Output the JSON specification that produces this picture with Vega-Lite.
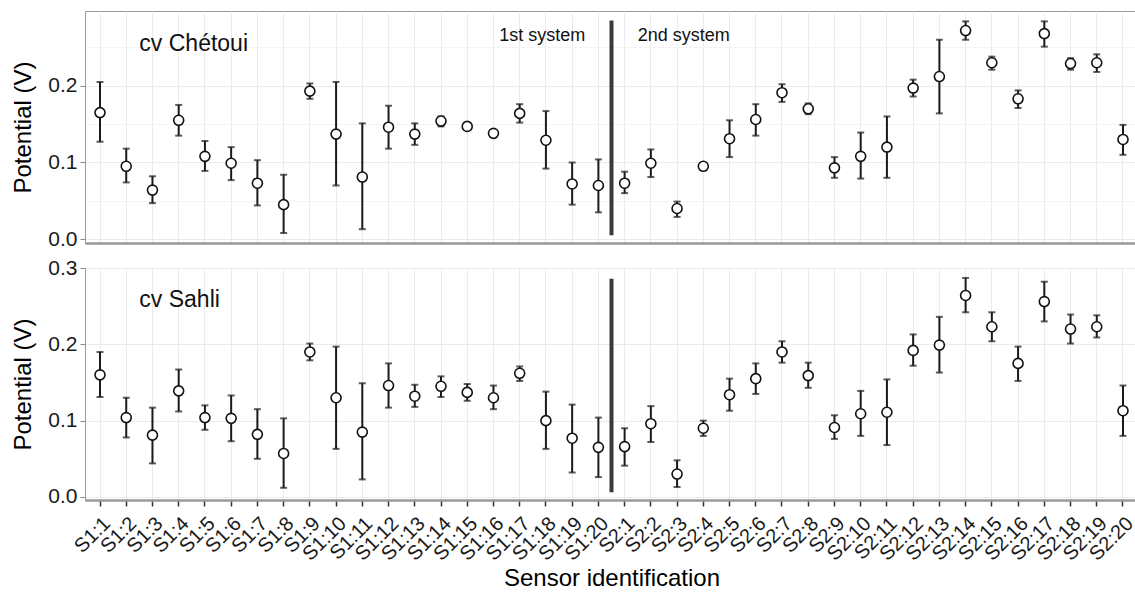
{
  "$schema": "https://vega.github.io/schema/vega-lite/v6.json",
  "padding": {"left": 11, "top": 10, "right": 0, "bottom": 0},
  "spacing": 6,
  "config": {
    "font": "Liberation Sans",
    "view": {"stroke": "#9a9a9a", "strokeWidth": 1},
    "axis": {"labelFont": "Liberation Sans", "titleFont": "Liberation Sans", "titleFontWeight": "normal", "labelColor": "#1a1a1a", "titleColor": "#000000", "gridColor": "#ebebeb", "domainColor": "#9a9a9a"},
    "axisY": {"labelFontSize": 21, "titleFontSize": 24, "tickSize": 5, "tickColor": "#8a8a8a", "labelPadding": 3, "titlePadding": 12, "domainWidth": 1}
  },
  "datasets": {
    "chetoui": [
      {"sensor": "S1:1", "m": 0.165, "lo": 0.127, "hi": 0.205},
      {"sensor": "S1:2", "m": 0.095, "lo": 0.074, "hi": 0.118},
      {"sensor": "S1:3", "m": 0.064, "lo": 0.047, "hi": 0.082},
      {"sensor": "S1:4", "m": 0.155, "lo": 0.135, "hi": 0.175},
      {"sensor": "S1:5", "m": 0.108, "lo": 0.089, "hi": 0.128},
      {"sensor": "S1:6", "m": 0.099, "lo": 0.077, "hi": 0.120},
      {"sensor": "S1:7", "m": 0.073, "lo": 0.044, "hi": 0.103},
      {"sensor": "S1:8", "m": 0.045, "lo": 0.008, "hi": 0.084},
      {"sensor": "S1:9", "m": 0.193, "lo": 0.183, "hi": 0.203},
      {"sensor": "S1:10", "m": 0.137, "lo": 0.070, "hi": 0.205},
      {"sensor": "S1:11", "m": 0.081, "lo": 0.013, "hi": 0.151},
      {"sensor": "S1:12", "m": 0.146, "lo": 0.118, "hi": 0.174},
      {"sensor": "S1:13", "m": 0.137, "lo": 0.123, "hi": 0.151},
      {"sensor": "S1:14", "m": 0.154, "lo": 0.147, "hi": 0.160},
      {"sensor": "S1:15", "m": 0.147, "lo": 0.145, "hi": 0.149},
      {"sensor": "S1:16", "m": 0.138, "lo": 0.136, "hi": 0.140},
      {"sensor": "S1:17", "m": 0.164, "lo": 0.152, "hi": 0.176},
      {"sensor": "S1:18", "m": 0.129, "lo": 0.092, "hi": 0.167},
      {"sensor": "S1:19", "m": 0.072, "lo": 0.045, "hi": 0.100},
      {"sensor": "S1:20", "m": 0.070, "lo": 0.035, "hi": 0.104},
      {"sensor": "S2:1", "m": 0.073, "lo": 0.060, "hi": 0.088},
      {"sensor": "S2:2", "m": 0.099, "lo": 0.081, "hi": 0.117},
      {"sensor": "S2:3", "m": 0.040, "lo": 0.029, "hi": 0.049},
      {"sensor": "S2:4", "m": 0.095, "lo": 0.092, "hi": 0.098},
      {"sensor": "S2:5", "m": 0.131, "lo": 0.107, "hi": 0.155},
      {"sensor": "S2:6", "m": 0.156, "lo": 0.135, "hi": 0.176},
      {"sensor": "S2:7", "m": 0.191, "lo": 0.179, "hi": 0.202},
      {"sensor": "S2:8", "m": 0.170, "lo": 0.163, "hi": 0.177},
      {"sensor": "S2:9", "m": 0.093, "lo": 0.080, "hi": 0.107},
      {"sensor": "S2:10", "m": 0.108, "lo": 0.079, "hi": 0.139},
      {"sensor": "S2:11", "m": 0.120, "lo": 0.080, "hi": 0.160},
      {"sensor": "S2:12", "m": 0.197, "lo": 0.186, "hi": 0.208},
      {"sensor": "S2:13", "m": 0.212, "lo": 0.164, "hi": 0.260},
      {"sensor": "S2:14", "m": 0.272, "lo": 0.260, "hi": 0.284},
      {"sensor": "S2:15", "m": 0.230, "lo": 0.221, "hi": 0.238},
      {"sensor": "S2:16", "m": 0.183, "lo": 0.171, "hi": 0.194},
      {"sensor": "S2:17", "m": 0.268, "lo": 0.251, "hi": 0.284},
      {"sensor": "S2:18", "m": 0.229, "lo": 0.221, "hi": 0.236},
      {"sensor": "S2:19", "m": 0.230, "lo": 0.218, "hi": 0.241},
      {"sensor": "S2:20", "m": 0.130, "lo": 0.110, "hi": 0.149}
    ],
    "sahli": [
      {"sensor": "S1:1", "m": 0.160, "lo": 0.131, "hi": 0.190},
      {"sensor": "S1:2", "m": 0.104, "lo": 0.078, "hi": 0.130},
      {"sensor": "S1:3", "m": 0.081, "lo": 0.044, "hi": 0.117},
      {"sensor": "S1:4", "m": 0.139, "lo": 0.112, "hi": 0.167},
      {"sensor": "S1:5", "m": 0.104, "lo": 0.088, "hi": 0.120},
      {"sensor": "S1:6", "m": 0.103, "lo": 0.073, "hi": 0.133},
      {"sensor": "S1:7", "m": 0.082, "lo": 0.050, "hi": 0.115},
      {"sensor": "S1:8", "m": 0.057, "lo": 0.012, "hi": 0.103},
      {"sensor": "S1:9", "m": 0.190, "lo": 0.179, "hi": 0.201},
      {"sensor": "S1:10", "m": 0.130, "lo": 0.063, "hi": 0.197},
      {"sensor": "S1:11", "m": 0.085, "lo": 0.023, "hi": 0.149},
      {"sensor": "S1:12", "m": 0.146, "lo": 0.117, "hi": 0.175},
      {"sensor": "S1:13", "m": 0.132, "lo": 0.118, "hi": 0.147},
      {"sensor": "S1:14", "m": 0.145, "lo": 0.131, "hi": 0.158},
      {"sensor": "S1:15", "m": 0.137, "lo": 0.126, "hi": 0.148},
      {"sensor": "S1:16", "m": 0.130, "lo": 0.115, "hi": 0.146},
      {"sensor": "S1:17", "m": 0.162, "lo": 0.152, "hi": 0.171},
      {"sensor": "S1:18", "m": 0.100, "lo": 0.063, "hi": 0.138},
      {"sensor": "S1:19", "m": 0.077, "lo": 0.032, "hi": 0.121},
      {"sensor": "S1:20", "m": 0.065, "lo": 0.026, "hi": 0.104},
      {"sensor": "S2:1", "m": 0.066, "lo": 0.041, "hi": 0.090},
      {"sensor": "S2:2", "m": 0.096, "lo": 0.072, "hi": 0.119},
      {"sensor": "S2:3", "m": 0.030, "lo": 0.013, "hi": 0.048},
      {"sensor": "S2:4", "m": 0.090, "lo": 0.080, "hi": 0.100},
      {"sensor": "S2:5", "m": 0.134, "lo": 0.113, "hi": 0.155},
      {"sensor": "S2:6", "m": 0.155, "lo": 0.135, "hi": 0.175},
      {"sensor": "S2:7", "m": 0.190, "lo": 0.176, "hi": 0.204},
      {"sensor": "S2:8", "m": 0.159, "lo": 0.143, "hi": 0.176},
      {"sensor": "S2:9", "m": 0.091, "lo": 0.076, "hi": 0.107},
      {"sensor": "S2:10", "m": 0.109, "lo": 0.080, "hi": 0.139},
      {"sensor": "S2:11", "m": 0.111, "lo": 0.068, "hi": 0.154},
      {"sensor": "S2:12", "m": 0.192, "lo": 0.172, "hi": 0.213},
      {"sensor": "S2:13", "m": 0.199, "lo": 0.163, "hi": 0.236},
      {"sensor": "S2:14", "m": 0.264, "lo": 0.242, "hi": 0.287},
      {"sensor": "S2:15", "m": 0.223, "lo": 0.204, "hi": 0.242},
      {"sensor": "S2:16", "m": 0.175, "lo": 0.152, "hi": 0.197},
      {"sensor": "S2:17", "m": 0.256, "lo": 0.230, "hi": 0.282},
      {"sensor": "S2:18", "m": 0.220, "lo": 0.201, "hi": 0.239},
      {"sensor": "S2:19", "m": 0.223, "lo": 0.209, "hi": 0.238},
      {"sensor": "S2:20", "m": 0.113, "lo": 0.080, "hi": 0.146}
    ]
  },
  "vconcat": [
    {
      "width": 1053,
      "height": 232,
      "layer": [
        {
          "data": {"name": "chetoui"},
          "mark": {"type": "rule", "color": "#1a1a1a", "strokeWidth": 2},
          "encoding": {
            "x": {"field": "sensor", "type": "nominal", "title": null,
              "scale": {"type": "band", "paddingInner": 0, "paddingOuter": 0.072, "domain": ["S1:1","S1:2","S1:3","S1:4","S1:5","S1:6","S1:7","S1:8","S1:9","S1:10","S1:11","S1:12","S1:13","S1:14","S1:15","S1:16","S1:17","S1:18","S1:19","S1:20","S2:1","S2:2","S2:3","S2:4","S2:5","S2:6","S2:7","S2:8","S2:9","S2:10","S2:11","S2:12","S2:13","S2:14","S2:15","S2:16","S2:17","S2:18","S2:19","S2:20"]},
              "axis": {"labels": false, "ticks": false, "domain": true, "domainWidth": 2.5, "grid": true, "title": null}},
            "y": {"field": "lo", "type": "quantitative", "title": "Potential (V)",
              "scale": {"domain": [-0.005, 0.2975], "nice": false, "zero": false},
              "axis": {"values": [0, 0.05, 0.1, 0.15, 0.2, 0.25],
                "labelExpr": "round(datum.value*100) % 10 == 5 ? '' : format(datum.value, '.1f')",
                "tickOpacity": {"condition": {"test": "round(datum.value*100) % 10 == 5", "value": 0}, "value": 1},
                "gridColor": {"condition": {"test": "round(datum.value*100) % 10 == 5", "value": "#f4f4f4"}, "value": "#ebebeb"}}},
            "y2": {"field": "hi"}
          }
        },
        {
          "data": {"name": "chetoui"},
          "mark": {"type": "tick", "color": "#1a1a1a", "thickness": 2, "size": 7, "orient": "horizontal"},
          "encoding": {
            "x": {"field": "sensor", "type": "nominal", "title": null},
            "y": {"field": "lo", "type": "quantitative", "title": "Potential (V)"}
          }
        },
        {
          "data": {"name": "chetoui"},
          "mark": {"type": "tick", "color": "#1a1a1a", "thickness": 2, "size": 7, "orient": "horizontal"},
          "encoding": {
            "x": {"field": "sensor", "type": "nominal", "title": null},
            "y": {"field": "hi", "type": "quantitative", "title": "Potential (V)"}
          }
        },
        {
          "data": {"name": "chetoui"},
          "mark": {"type": "point", "shape": "circle", "filled": true, "fill": "#ffffff", "stroke": "#111111", "strokeWidth": 1.6, "size": 100, "opacity": 1},
          "encoding": {
            "x": {"field": "sensor", "type": "nominal", "title": null},
            "y": {"field": "m", "type": "quantitative", "title": "Potential (V)"}
          }
        },
        {
          "data": {"values": [{"boundary": "S2:1"}]},
          "mark": {"type": "rule", "color": "#3a3a3a", "strokeWidth": 4},
          "encoding": {
            "x": {"field": "boundary", "type": "nominal", "bandPosition": 0, "title": null},
            "y": {"datum": 0.005, "type": "quantitative", "title": "Potential (V)"},
            "y2": {"datum": 0.285}
          }
        },
        {
          "data": {"values": [{"label": "cv Chétoui"}]},
          "mark": {"type": "text", "align": "left", "baseline": "alphabetic", "fontSize": 23, "color": "#111111"},
          "encoding": {
            "x": {"datum": "S1:3", "type": "nominal", "bandPosition": 0, "title": null},
            "y": {"datum": 0.245, "type": "quantitative", "title": "Potential (V)"},
            "text": {"field": "label"}
          }
        },
        {
          "data": {"values": [{"label": "1st system"}]},
          "mark": {"type": "text", "align": "right", "baseline": "alphabetic", "fontSize": 18, "color": "#111111"},
          "encoding": {
            "x": {"datum": "S1:20", "type": "nominal", "bandPosition": 0, "title": null},
            "y": {"datum": 0.258, "type": "quantitative", "title": "Potential (V)"},
            "text": {"field": "label"}
          }
        },
        {
          "data": {"values": [{"label": "2nd system"}]},
          "mark": {"type": "text", "align": "left", "baseline": "alphabetic", "fontSize": 18, "color": "#111111"},
          "encoding": {
            "x": {"datum": "S2:1", "type": "nominal", "bandPosition": 1, "title": null},
            "y": {"datum": 0.258, "type": "quantitative", "title": "Potential (V)"},
            "text": {"field": "label"}
          }
        }
      ]
    },
    {
      "width": 1053,
      "height": 232,
      "layer": [
        {
          "data": {"name": "sahli"},
          "mark": {"type": "rule", "color": "#1a1a1a", "strokeWidth": 2},
          "encoding": {
            "x": {"field": "sensor", "type": "nominal", "title": "Sensor identification",
              "scale": {"type": "band", "paddingInner": 0, "paddingOuter": 0.072, "domain": ["S1:1","S1:2","S1:3","S1:4","S1:5","S1:6","S1:7","S1:8","S1:9","S1:10","S1:11","S1:12","S1:13","S1:14","S1:15","S1:16","S1:17","S1:18","S1:19","S1:20","S2:1","S2:2","S2:3","S2:4","S2:5","S2:6","S2:7","S2:8","S2:9","S2:10","S2:11","S2:12","S2:13","S2:14","S2:15","S2:16","S2:17","S2:18","S2:19","S2:20"]},
              "axis": {"grid": true, "labelAngle": -45, "labelAlign": "right", "labelBaseline": "top", "labelFontSize": 20, "labelPadding": 7, "tickSize": 6, "tickColor": "#333333", "tickWidth": 1.5, "domainWidth": 2.5, "titleFontSize": 24, "titlePadding": 2}},
            "y": {"field": "lo", "type": "quantitative", "title": "Potential (V)",
              "scale": {"domain": [-0.004, 0.3], "nice": false, "zero": false},
              "axis": {"values": [0, 0.05, 0.1, 0.15, 0.2, 0.25, 0.3],
                "labelExpr": "round(datum.value*100) % 10 == 5 ? '' : format(datum.value, '.1f')",
                "tickOpacity": {"condition": {"test": "round(datum.value*100) % 10 == 5", "value": 0}, "value": 1},
                "gridColor": {"condition": {"test": "round(datum.value*100) % 10 == 5", "value": "#f4f4f4"}, "value": "#ebebeb"}}},
            "y2": {"field": "hi"}
          }
        },
        {
          "data": {"name": "sahli"},
          "mark": {"type": "tick", "color": "#1a1a1a", "thickness": 2, "size": 7, "orient": "horizontal"},
          "encoding": {
            "x": {"field": "sensor", "type": "nominal", "title": "Sensor identification"},
            "y": {"field": "lo", "type": "quantitative", "title": "Potential (V)"}
          }
        },
        {
          "data": {"name": "sahli"},
          "mark": {"type": "tick", "color": "#1a1a1a", "thickness": 2, "size": 7, "orient": "horizontal"},
          "encoding": {
            "x": {"field": "sensor", "type": "nominal", "title": "Sensor identification"},
            "y": {"field": "hi", "type": "quantitative", "title": "Potential (V)"}
          }
        },
        {
          "data": {"name": "sahli"},
          "mark": {"type": "point", "shape": "circle", "filled": true, "fill": "#ffffff", "stroke": "#111111", "strokeWidth": 1.6, "size": 100, "opacity": 1},
          "encoding": {
            "x": {"field": "sensor", "type": "nominal", "title": "Sensor identification"},
            "y": {"field": "m", "type": "quantitative", "title": "Potential (V)"}
          }
        },
        {
          "data": {"values": [{"boundary": "S2:1"}]},
          "mark": {"type": "rule", "color": "#3a3a3a", "strokeWidth": 4},
          "encoding": {
            "x": {"field": "boundary", "type": "nominal", "bandPosition": 0, "title": "Sensor identification"},
            "y": {"datum": 0.006, "type": "quantitative", "title": "Potential (V)"},
            "y2": {"datum": 0.286}
          }
        },
        {
          "data": {"values": [{"label": "cv Sahli"}]},
          "mark": {"type": "text", "align": "left", "baseline": "alphabetic", "fontSize": 23, "color": "#111111"},
          "encoding": {
            "x": {"datum": "S1:3", "type": "nominal", "bandPosition": 0, "title": "Sensor identification"},
            "y": {"datum": 0.249, "type": "quantitative", "title": "Potential (V)"},
            "text": {"field": "label"}
          }
        }
      ]
    }
  ]
}
